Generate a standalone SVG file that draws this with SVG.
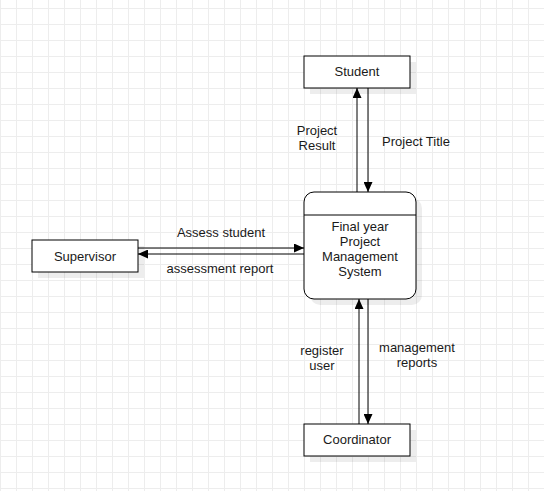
<svg xmlns="http://www.w3.org/2000/svg" width="544" height="491" viewBox="0 0 544 491">
  <style>
    .box { fill: #ffffff; stroke: #000000; stroke-width: 1; }
    .shadow { fill: #000000; fill-opacity: 0.07; stroke: none; }
    .lbl { font-family: "Liberation Sans", Arial, sans-serif; font-size: 13px; fill: #1a1a1a; text-anchor: middle; }
    .conn { stroke: #000000; stroke-width: 1; fill: none; marker-end: url(#arrow); }
  </style>
  <defs>
    <pattern id="grid" patternUnits="userSpaceOnUse" x="0" y="8" width="16" height="16">
      <path d="M0.5 0 V16 M0 0.5 H16" stroke="#ededed" stroke-width="1" fill="none"/>
    </pattern>
    <marker id="arrow" viewBox="0 0 10 9" refX="10" refY="4.5" markerWidth="10" markerHeight="9" markerUnits="userSpaceOnUse" orient="auto">
      <path d="M0,0 L10,4.5 L0,9 Z" fill="#000000"/>
    </marker>
  </defs>
  <rect x="0" y="0" width="544" height="491" fill="#ffffff"/>
  <rect x="0" y="0" width="544" height="491" fill="url(#grid)"/>

  <g id="connectors">
    <line class="conn" x1="357" y1="192" x2="357" y2="88"/>
    <line class="conn" x1="368" y1="88" x2="368" y2="192"/>
    <line class="conn" x1="138" y1="248" x2="304" y2="248"/>
    <line class="conn" x1="304" y1="254" x2="138" y2="254"/>
    <line class="conn" x1="359" y1="424" x2="359" y2="299"/>
    <line class="conn" x1="368" y1="299" x2="368" y2="424"/>
    <text class="lbl" x="317" y="135"><tspan x="317" y="135">Project</tspan><tspan x="317" y="150">Result</tspan></text>
    <text class="lbl" x="416" y="146">Project Title</text>
    <text class="lbl" x="221" y="237">Assess student</text>
    <text class="lbl" x="220" y="273">assessment report</text>
    <text class="lbl" x="322" y="355"><tspan x="322" y="355">register</tspan><tspan x="322" y="370">user</tspan></text>
    <text class="lbl" x="417" y="352"><tspan x="417" y="352">management</tspan><tspan x="417" y="367">reports</tspan></text>
  </g>

  <g id="student">
    <rect class="shadow" x="310" y="62" width="106" height="32"/>
    <rect class="box" x="304" y="56" width="106" height="32"/>
    <text class="lbl" x="357" y="76">Student</text>
  </g>

  <g id="supervisor">
    <rect class="shadow" x="38" y="246" width="106" height="32"/>
    <rect class="box" x="32" y="240" width="106" height="32"/>
    <text class="lbl" x="85" y="260.5">Supervisor</text>
  </g>

  <g id="coordinator">
    <rect class="shadow" x="310" y="430" width="106" height="32"/>
    <rect class="box" x="304" y="424" width="106" height="32"/>
    <text class="lbl" x="357" y="444">Coordinator</text>
  </g>

  <g id="process">
    <rect class="shadow" x="310" y="198" width="112" height="107" rx="10" ry="10"/>
    <rect class="box" x="304" y="192" width="112" height="107" rx="10" ry="10"/>
    <line x1="304" y1="215" x2="416" y2="215" stroke="#000000" stroke-width="1"/>
    <text class="lbl" x="360" y="231"><tspan x="360" y="231">Final year</tspan><tspan x="360" y="246">Project</tspan><tspan x="360" y="261">Management</tspan><tspan x="360" y="276">System</tspan></text>
  </g>
</svg>
